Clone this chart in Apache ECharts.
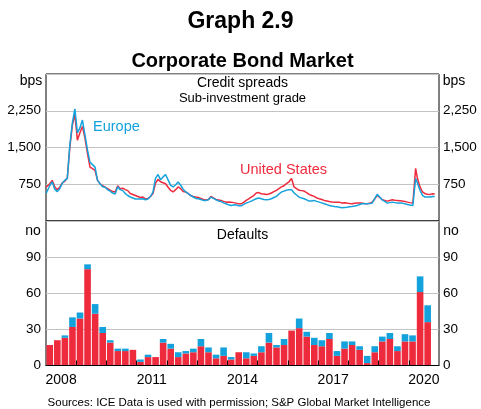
<!DOCTYPE html>
<html><head><meta charset="utf-8">
<script src="https://cdn.jsdelivr.net/npm/echarts@6/dist/echarts.min.js"></script>
<style>html,body{margin:0;padding:0;background:#fff}#c{width:481px;height:409px}</style>
</head><body><div id="c"></div>
<script>
// ---- Credit spreads (bps), sub-investment grade ----
const spreadDates = [
'2008-01-02','2008-02-15','2008-03-15','2008-04-15','2008-05-15','2008-06-15','2008-07-15','2008-08-15','2008-09-15','2008-10-15','2008-11-15','2008-12-15',
'2009-01-15','2009-02-15','2009-03-15','2009-04-15','2009-05-15','2009-06-15','2009-07-15','2009-08-15','2009-09-15','2009-10-15','2009-11-15','2009-12-15',
'2010-01-15','2010-02-15','2010-03-15','2010-04-15','2010-05-15','2010-06-15','2010-07-15','2010-08-15','2010-09-15','2010-10-15','2010-11-15','2010-12-15',
'2011-01-15','2011-02-15','2011-03-15','2011-04-15','2011-05-15','2011-06-15','2011-07-15','2011-08-15','2011-09-15','2011-10-15','2011-11-15','2011-12-15',
'2012-01-15','2012-02-15','2012-03-15','2012-04-15','2012-05-15','2012-06-15','2012-07-15','2012-08-15','2012-09-15','2012-10-15','2012-11-15','2012-12-15',
'2013-01-15','2013-02-15','2013-03-15','2013-04-15','2013-05-15','2013-06-15','2013-07-15','2013-08-15','2013-09-15','2013-10-15','2013-11-15','2013-12-15',
'2014-01-15','2014-02-15','2014-03-15','2014-04-15','2014-05-15','2014-06-15','2014-07-15','2014-08-15','2014-09-15','2014-10-15','2014-11-15','2014-12-15',
'2015-01-15','2015-02-15','2015-03-15','2015-04-15','2015-05-15','2015-06-15','2015-07-15','2015-08-15','2015-09-15','2015-10-15','2015-11-15','2015-12-15',
'2016-01-15','2016-02-15','2016-03-15','2016-04-15','2016-05-15','2016-06-15','2016-07-15','2016-08-15','2016-09-15','2016-10-15','2016-11-15','2016-12-15',
'2017-01-15','2017-02-15','2017-03-15','2017-04-15','2017-05-15','2017-06-15','2017-07-15','2017-08-15','2017-09-15','2017-10-15','2017-11-15','2017-12-15',
'2018-01-15','2018-02-15','2018-03-15','2018-04-15','2018-05-15','2018-06-15','2018-07-15','2018-08-15','2018-09-15','2018-10-15','2018-11-15','2018-12-15',
'2019-01-15','2019-02-15','2019-03-15','2019-04-15','2019-05-15','2019-06-15','2019-07-15','2019-08-15','2019-09-15','2019-10-15','2019-11-15','2019-12-15',
'2020-01-15','2020-02-20','2020-03-23','2020-04-15','2020-05-15','2020-06-15','2020-07-15','2020-08-15','2020-09-15','2020-10-15','2020-11-10'
];
const usSpread = [
690,760,830,700,640,690,780,810,880,1500,1950,2180,
1650,1800,1930,1690,1380,1100,1070,1030,830,760,720,690,
660,630,600,590,720,660,670,640,620,560,540,520,
500,480,488,450,460,500,560,770,850,800,780,760,
690,626,592,640,695,660,600,592,557,520,500,488,
480,460,440,430,440,500,470,440,430,420,400,385,
390,385,375,365,350,350,380,420,450,488,520,571,
580,557,550,543,550,571,600,626,660,695,720,764,
800,867,695,660,626,620,612,580,543,520,502,470,
454,440,420,410,399,390,385,385,385,365,370,365,
355,351,360,365,365,365,355,351,360,385,450,523,
480,433,420,406,420,433,425,420,415,406,400,385,
375,365,1073,867,695,592,557,545,543,557,550
];
const euSpread = [
560,720,800,650,600,660,770,830,870,1550,2000,2290,
1800,1900,2060,1760,1450,1200,1150,1100,830,760,700,690,
640,610,570,550,700,640,620,560,520,490,470,450,
450,450,454,433,450,500,590,870,950,840,900,950,
840,729,695,740,798,729,650,592,557,520,490,460,
454,440,420,420,433,488,460,433,410,399,370,351,
330,316,325,330,310,310,340,365,385,406,430,454,
470,454,440,433,440,454,480,502,550,592,610,626,
640,640,571,530,488,470,454,430,406,410,420,400,
385,370,351,335,316,305,296,290,282,268,275,282,
290,296,305,316,335,351,351,351,355,365,450,543,
490,433,400,365,375,385,375,365,365,365,350,337,
325,316,867,777,626,523,488,488,488,502,500
];
const spreadTicks = [750, 1500, 2250];

// ---- Defaults (number), quarterly ----
const quarters = [
'2008-Q1','2008-Q2','2008-Q3','2008-Q4','2009-Q1','2009-Q2','2009-Q3','2009-Q4',
'2010-Q1','2010-Q2','2010-Q3','2010-Q4','2011-Q1','2011-Q2','2011-Q3','2011-Q4',
'2012-Q1','2012-Q2','2012-Q3','2012-Q4','2013-Q1','2013-Q2','2013-Q3','2013-Q4',
'2014-Q1','2014-Q2','2014-Q3','2014-Q4','2015-Q1','2015-Q2','2015-Q3','2015-Q4',
'2016-Q1','2016-Q2','2016-Q3','2016-Q4','2017-Q1','2017-Q2','2017-Q3','2017-Q4',
'2018-Q1','2018-Q2','2018-Q3','2018-Q4','2019-Q1','2019-Q2','2019-Q3','2019-Q4',
'2020-Q1','2020-Q2','2020-Q3','2020-Q4'
];
const usDefaults = [
17,21,23,32,39,80,43,27, 19,12,12,13,3,7,7,19,
14,7,10,11,16,11,6,8, 5,11,6,8,11,19,15,17,
29,31,24,17,16,22,8,14, 17,13,2,11,20,22,12,20,
20,61,36
];
const euDefaults = [
0,0,2,8,5,4,8,5, 2,2,2,0,2,2,0,3,
4,4,2,3,6,4,3,7, 2,0,5,2,5,8,2,5,
0,8,4,6,5,5,4,6, 3,3,6,5,4,5,4,6,
5,13,14
];
const defaultTicks = [0, 30, 60, 90];
const yearLabels = ['2008', '2011', '2014', '2017', '2020'];

// ---- helpers (conversion only) ----
function dateToYear(s) {
  const p = s.split('-').map(Number);
  return p[0] + (p[1] - 1) / 12 + (p[2] - 1) / 365;
}
const RED = '#ee2a3d', BLUE = '#14a2dc';
const FONT = '"Liberation Sans", Arial, sans-serif';

const usLine = spreadDates.map((d, i) => [dateToYear(d), usSpread[i]]);
const euLine = spreadDates.map((d, i) => [dateToYear(d), euSpread[i]]);
const yearTickValues = [];
for (let y = 2009; y <= 2020; y++) yearTickValues.push(y);
const yearLabelValues = yearLabels.map(y => Number(y) + 0.5);

const chart = echarts.init(document.getElementById('c'), null, {renderer: 'canvas'});
const gridLine = {show: true, lineStyle: {color: '#c3c3c3', width: 1}};
const lab = {fontSize: 13.5, color: '#000', fontFamily: FONT};
const txt = (t, x, y, size, opts) => ({
  type: 'text', x: x, y: y, z: 100,
  style: Object.assign({text: t, fontSize: size, fontFamily: FONT, fill: '#000', textAlign: 'center', textVerticalAlign: 'middle'}, opts || {})
});

chart.setOption({
  animation: false,
  backgroundColor: '#fff',
  grid: [
    {left: 46, right: 42, top: 74, height: 147, show: true, borderColor: '#000', borderWidth: 1, backgroundColor: 'transparent'},
    {left: 46, right: 42, top: 221, height: 144.5, show: true, borderColor: '#000', borderWidth: 1, backgroundColor: 'transparent'}
  ],
  xAxis: [
    {gridIndex: 0, type: 'value', min: 2008, max: 2021, axisLine: {show: false}, axisTick: {show: false}, axisLabel: {show: false}, splitLine: {show: false}},
    {gridIndex: 1, type: 'category', position: 'bottom', data: quarters, boundaryGap: true,
      axisLine: {show: false}, axisTick: {show: false}, axisLabel: {show: false}, splitLine: {show: false}},
    {gridIndex: 1, type: 'value', position: 'bottom', min: 2008, max: 2021,
      axisLine: {show: true, lineStyle: {color: '#000', width: 1}},
      axisTick: {show: true, inside: true, length: 5, customValues: yearTickValues, lineStyle: {color: '#000'}},
      axisLabel: Object.assign({}, lab, {fontSize: 14, margin: 8, customValues: yearLabelValues, formatter: v => String(Math.floor(v))}),
      splitLine: {show: false}, z: 10}
  ],
  yAxis: [
    {gridIndex: 0, type: 'value', min: 0, max: 3000, interval: 750, position: 'left',
      axisLine: {show: false}, axisTick: {show: false}, splitLine: gridLine,
      axisLabel: Object.assign({}, lab, {margin: 5, formatter: v => spreadTicks.indexOf(v) >= 0 ? v.toLocaleString('en-US') : ''})},
    {gridIndex: 0, type: 'value', min: 0, max: 3000, interval: 750, position: 'right',
      axisLine: {show: false}, axisTick: {show: false}, splitLine: {show: false},
      axisLabel: Object.assign({}, lab, {margin: 4, formatter: v => spreadTicks.indexOf(v) >= 0 ? v.toLocaleString('en-US') : ''})},
    {gridIndex: 1, type: 'value', min: 0, max: 120, interval: 30, position: 'left',
      axisLine: {show: false}, axisTick: {show: false}, splitLine: gridLine,
      axisLabel: Object.assign({}, lab, {margin: 5, formatter: v => defaultTicks.indexOf(v) >= 0 ? String(v) : ''})},
    {gridIndex: 1, type: 'value', min: 0, max: 120, interval: 30, position: 'right',
      axisLine: {show: false}, axisTick: {show: false}, splitLine: {show: false},
      axisLabel: Object.assign({}, lab, {margin: 4, formatter: v => defaultTicks.indexOf(v) >= 0 ? String(v) : ''})}
  ],
  series: [
    {name: 'United States', type: 'line', xAxisIndex: 0, yAxisIndex: 0, data: usLine, showSymbol: false, symbol: 'none',
      lineStyle: {color: RED, width: 1.5}, itemStyle: {color: RED}, z: 3},
    {name: 'Europe', type: 'line', xAxisIndex: 0, yAxisIndex: 0, data: euLine, showSymbol: false, symbol: 'none',
      lineStyle: {color: BLUE, width: 1.5}, itemStyle: {color: BLUE}, z: 4},
    {name: 'US defaults', type: 'bar', xAxisIndex: 1, yAxisIndex: 2, stack: 'def', data: usDefaults, barWidth: 6.6,
      itemStyle: {color: RED}},
    {name: 'Europe defaults', type: 'bar', xAxisIndex: 1, yAxisIndex: 2, stack: 'def', data: euDefaults, barWidth: 6.6,
      itemStyle: {color: BLUE}}
  ],
  graphic: [
    txt('Graph 2.9', 240.5, 22, 23, {fontWeight: 'bold'}),
    txt('Corporate Bond Market', 242.5, 61, 20, {fontWeight: 'bold'}),
    txt('Credit spreads', 242.5, 83, 14),
    txt('Sub-investment grade', 242.5, 98, 13),
    txt('Defaults', 242.5, 235, 14),
    txt('bps', 31, 81, 14),
    txt('bps', 454, 81, 14),
    txt('no', 33, 231, 14),
    txt('no', 451, 231, 14),
    txt('Europe', 93, 127, 14.5, {fill: BLUE, textAlign: 'left'}),
    txt('United States', 240, 170, 14.5, {fill: RED, textAlign: 'left'}),
    txt('Sources: ICE Data is used with permission; S&P Global Market Intelligence', 239, 403, 11.5)
  ]
});
</script>
</body></html>
